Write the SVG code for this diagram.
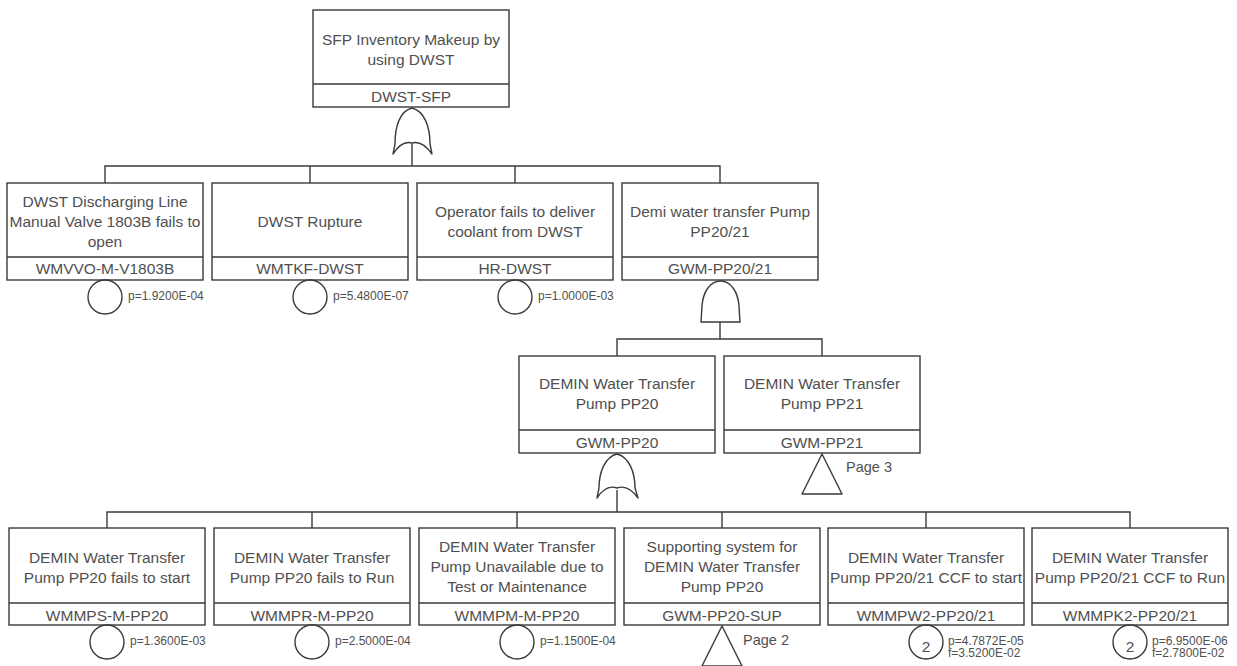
<svg xmlns="http://www.w3.org/2000/svg" width="1237" height="666" viewBox="0 0 1237 666">
<style>
.box{fill:#fff;stroke:#3a3a3a;stroke-width:1.4}
.ln{fill:none;stroke:#3a3a3a;stroke-width:1.4}
.gate{fill:#fff;stroke:#3a3a3a;stroke-width:1.4;stroke-linejoin:round}
.t{font-family:"Liberation Sans",Arial,sans-serif;font-size:15.5px;fill:#505050;text-anchor:middle}
.p{font-family:"Liberation Sans",Arial,sans-serif;font-size:12px;fill:#505050}
.pg{font-family:"Liberation Sans",Arial,sans-serif;font-size:14.5px;fill:#505050}
</style>
<rect width="1237" height="666" fill="#fff"/>

<g id="connectors">
<path class="ln" d="M412,144 V166 M105,183 V166 H720 V183 M310,166 V183 M515,166 V183"/>
<path class="ln" d="M720,322 V339 M617,356 V339 H822 V356"/>
<path class="ln" d="M617,490 V512 M107,528 V512 H1130 V528 M312,512 V528 M517,512 V528 M722,512 V528 M926,512 V528"/>
</g>

<g id="top-DWST-SFP">
<rect class="box" x="313" y="10" width="196" height="97"/>
<line class="ln" x1="313" y1="84" x2="509" y2="84"/>
<text class="t" x="411" y="45">SFP Inventory Makeup by</text>
<text class="t" x="411" y="65">using DWST</text>
<text class="t" x="411" y="102">DWST-SFP</text>
<path class="gate" d="M412,108 C424,111 430,126 430,144 L432,154 Q422,140 412,143 Q402,140 393,154 L395,144 C395,126 400,111 412,108 Z"/>
</g>

<g id="WMVVO-M-V1803B">
<rect class="box" x="7" y="183" width="196" height="97"/>
<line class="ln" x1="7" y1="257" x2="203" y2="257"/>
<text class="t" x="105" y="207">DWST Discharging Line</text>
<text class="t" x="105" y="227">Manual Valve 1803B fails to</text>
<text class="t" x="105" y="247">open</text>
<text class="t" x="105" y="274">WMVVO-M-V1803B</text>
<circle class="ln" cx="105" cy="297" r="17"/>
<text class="p" x="128" y="300">p=1.9200E-04</text>
</g>

<g id="WMTKF-DWST">
<rect class="box" x="212" y="183" width="196" height="97"/>
<line class="ln" x1="212" y1="257" x2="408" y2="257"/>
<text class="t" x="310" y="227">DWST Rupture</text>
<text class="t" x="310" y="274">WMTKF-DWST</text>
<circle class="ln" cx="310" cy="297" r="17"/>
<text class="p" x="333" y="300">p=5.4800E-07</text>
</g>

<g id="HR-DWST">
<rect class="box" x="417" y="183" width="196" height="97"/>
<line class="ln" x1="417" y1="257" x2="613" y2="257"/>
<text class="t" x="515" y="217">Operator fails to deliver</text>
<text class="t" x="515" y="237">coolant from DWST</text>
<text class="t" x="515" y="274">HR-DWST</text>
<circle class="ln" cx="515" cy="297" r="17"/>
<text class="p" x="538" y="300">p=1.0000E-03</text>
</g>

<g id="GWM-PP20-21">
<rect class="box" x="622" y="183" width="196" height="97"/>
<line class="ln" x1="622" y1="257" x2="818" y2="257"/>
<text class="t" x="720" y="217">Demi water transfer Pump</text>
<text class="t" x="720" y="237">PP20/21</text>
<text class="t" x="720" y="274">GWM-PP20/21</text>
<path class="gate" d="M701,322 L702,306 C703,292 710,281 720.5,281 C731,281 738,292 739,306 L740,322 Z"/>
</g>

<g id="GWM-PP20">
<rect class="box" x="519" y="356" width="196" height="97"/>
<line class="ln" x1="519" y1="430" x2="715" y2="430"/>
<text class="t" x="617" y="389">DEMIN Water Transfer</text>
<text class="t" x="617" y="409">Pump PP20</text>
<text class="t" x="617" y="448">GWM-PP20</text>
<path class="gate" d="M617,454 C629,457 635,472 635,488 L638,498 Q628,484 617,488 Q606,484 597,498 L599,488 C599,472 605,457 617,454 Z"/>
</g>

<g id="GWM-PP21">
<rect class="box" x="724" y="356" width="196" height="97"/>
<line class="ln" x1="724" y1="430" x2="920" y2="430"/>
<text class="t" x="822" y="389">DEMIN Water Transfer</text>
<text class="t" x="822" y="409">Pump PP21</text>
<text class="t" x="822" y="448">GWM-PP21</text>
<path class="gate" d="M822,454 L842,494 L802,494 Z"/>
<text class="pg" x="846" y="472">Page 3</text>
</g>

<g id="WMMPS-M-PP20">
<rect class="box" x="9" y="528" width="196" height="97"/>
<line class="ln" x1="9" y1="603" x2="205" y2="603"/>
<text class="t" x="107" y="563">DEMIN Water Transfer</text>
<text class="t" x="107" y="583">Pump PP20 fails to start</text>
<text class="t" x="107" y="621">WMMPS-M-PP20</text>
<circle class="ln" cx="107" cy="642" r="17"/>
<text class="p" x="130" y="645">p=1.3600E-03</text>
</g>

<g id="WMMPR-M-PP20">
<rect class="box" x="214" y="528" width="196" height="97"/>
<line class="ln" x1="214" y1="603" x2="410" y2="603"/>
<text class="t" x="312" y="563">DEMIN Water Transfer</text>
<text class="t" x="312" y="583">Pump PP20 fails to Run</text>
<text class="t" x="312" y="621">WMMPR-M-PP20</text>
<circle class="ln" cx="312" cy="642" r="17"/>
<text class="p" x="335" y="645">p=2.5000E-04</text>
</g>

<g id="WMMPM-M-PP20">
<rect class="box" x="419" y="528" width="196" height="97"/>
<line class="ln" x1="419" y1="603" x2="615" y2="603"/>
<text class="t" x="517" y="552">DEMIN Water Transfer</text>
<text class="t" x="517" y="572">Pump Unavailable due to</text>
<text class="t" x="517" y="592">Test or Maintenance</text>
<text class="t" x="517" y="621">WMMPM-M-PP20</text>
<circle class="ln" cx="517" cy="642" r="17"/>
<text class="p" x="540" y="645">p=1.1500E-04</text>
</g>

<g id="GWM-PP20-SUP">
<rect class="box" x="624" y="528" width="196" height="97"/>
<line class="ln" x1="624" y1="603" x2="820" y2="603"/>
<text class="t" x="722" y="552">Supporting system for</text>
<text class="t" x="722" y="572">DEMIN Water Transfer</text>
<text class="t" x="722" y="592">Pump PP20</text>
<text class="t" x="722" y="621">GWM-PP20-SUP</text>
<path class="gate" d="M722,626 L742,666 L702,666 Z"/>
<text class="pg" x="743" y="645">Page 2</text>
</g>

<g id="WMMPW2-PP20-21">
<rect class="box" x="828" y="528" width="196" height="97"/>
<line class="ln" x1="828" y1="603" x2="1024" y2="603"/>
<text class="t" x="926" y="563">DEMIN Water Transfer</text>
<text class="t" x="926" y="583">Pump PP20/21 CCF to start</text>
<text class="t" x="926" y="621">WMMPW2-PP20/21</text>
<circle class="ln" cx="926" cy="642" r="17"/>
<text class="t" x="926" y="652">2</text>
<text class="p" x="948" y="645">p=4.7872E-05</text>
<text class="p" x="948" y="657">f=3.5200E-02</text>
</g>

<g id="WMMPK2-PP20-21">
<rect class="box" x="1032" y="528" width="196" height="97"/>
<line class="ln" x1="1032" y1="603" x2="1228" y2="603"/>
<text class="t" x="1130" y="563">DEMIN Water Transfer</text>
<text class="t" x="1130" y="583">Pump PP20/21 CCF to Run</text>
<text class="t" x="1130" y="621">WMMPK2-PP20/21</text>
<circle class="ln" cx="1130" cy="642" r="17"/>
<text class="t" x="1130" y="652">2</text>
<text class="p" x="1152" y="645">p=6.9500E-06</text>
<text class="p" x="1152" y="657">f=2.7800E-02</text>
</g>
</svg>
